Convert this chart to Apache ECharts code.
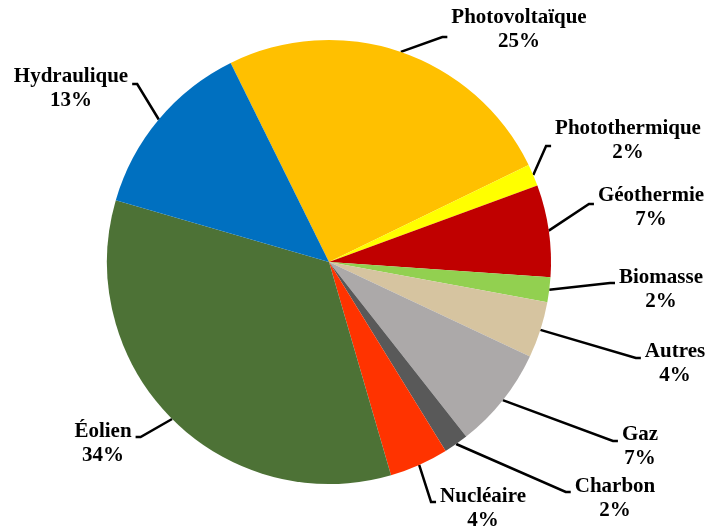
<!DOCTYPE html>
<html>
<head>
<meta charset="utf-8">
<script src="https://cdn.jsdelivr.net/npm/echarts@6/dist/echarts.min.js"></script>
<style>
  html, body { margin: 0; padding: 0; background: #fff; }
  #chart { width: 707px; height: 531px; }
</style>
</head>
<body>
<div id="chart"></div>
<script>
// parts du mix (sens horaire, depuis le haut)
const sources = ['Photovoltaïque', 'Photothermique', 'Géothermie', 'Biomasse', 'Autres',
  'Gaz', 'Charbon', 'Nucléaire', 'Éolien', 'Hydraulique']
const shares = [25.1, 1.6, 6.7, 1.8, 4.1, 7.4, 1.8, 4.3, 34.0, 13.2]
const colors = ['#FFC000', '#FFFF00', '#C00000', '#92D050', '#D6C4A0',
  '#ACA9A9', '#595959', '#FF3300', '#4D7236', '#0070C0']

// placement des étiquettes (centre du bloc de texte) et décalage vertical du trait
const labelCenter = [[519, 30], [628, 141], [651, 208], [661, 290], [675, 364],
  [640, 447], [615, 499], [483, 509], [103, 444], [71, 89]]
const lineDy = [7, 5, -4, -7, -6, -6, -7, -7, -7, -5]

const chart = echarts.init(document.getElementById('chart'))

const option = {
  animation: false,
  series: [
    {
      type: 'pie',
      center: [329, 262],
      radius: 222,
      startAngle: 116.3,
      clockwise: true,
      percentPrecision: 0,
      avoidLabelOverlap: false,
      emphasis: { disabled: true },
      itemStyle: { borderWidth: 0 },
      label: {
        show: true,
        formatter: '{b}\n{d}%',
        fontFamily: 'Liberation Serif',
        fontWeight: 'bold',
        fontSize: 21,
        lineHeight: 24,
        color: '#000',
        align: 'center'
      },
      labelLine: {
        show: true,
        length: 20,
        length2: 6,
        lineStyle: { color: '#000', width: 2.5 }
      },
      labelLayout: (params) => {
        const i = params.dataIndex
        const c = labelCenter[i]
        const w = params.labelRect.width
        const start = params.labelLinePoints[0]
        const right = c[0] > start[0]
        const endX = right ? c[0] - w / 2 - 4 : c[0] + w / 2 + 4
        const endY = c[1] + lineDy[i]
        const elbowX = right ? endX - 5 : endX + 5
        return {
          x: c[0],
          y: c[1],
          align: 'center',
          verticalAlign: 'middle',
          labelLinePoints: [start, [elbowX, endY], [endX, endY]]
        }
      },
      data: sources.map((name, i) => ({
        name,
        value: shares[i],
        itemStyle: { color: colors[i] }
      }))
    }
  ]
}

chart.setOption(option)
</script>
</body>
</html>
